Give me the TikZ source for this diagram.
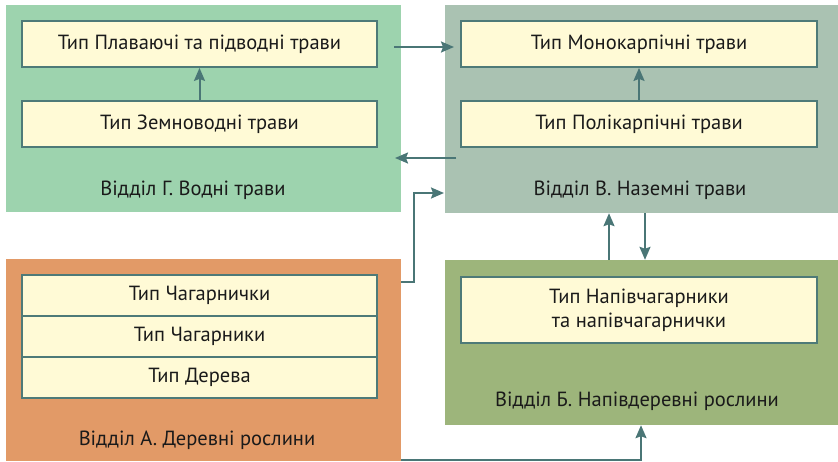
\documentclass[tikz,border=0pt]{standalone}
\usepackage{fontspec}
\setmainfont{PT Sans}
\usetikzlibrary{arrows.meta}
\definecolor{cG}{HTML}{9DD3AE}
\definecolor{cV}{HTML}{AAC2B2}
\definecolor{cA}{HTML}{E29A67}
\definecolor{cB}{HTML}{9DB57B}
\definecolor{cIn}{HTML}{FFFAD6}
\definecolor{cEdge}{HTML}{4E7A78}
\definecolor{cArr}{HTML}{4A7676}
\definecolor{cTxt}{HTML}{1A1A1A}
\begin{document}
\begin{tikzpicture}[x=1pt,y=-1pt,
  grp/.style={draw=none,rectangle,inner sep=0pt},
  typebox/.style={draw=cEdge,fill=cIn,line width=1.8pt,rectangle,inner sep=0pt,text=cTxt,font=\fontsize{20.5}{24}\selectfont,align=center},
  lbl/.style={font=\fontsize{20.5}{24}\selectfont,inner sep=0pt,text=cTxt},
  arr/.style={draw=cArr,line width=2pt,-{Stealth[length=13pt,width=11pt,inset=2pt]}},
  ln/.style={draw=cArr,line width=2pt}]
\useasboundingbox (0,0) rectangle (838,461);
% groups
\node[grp,fill=cG,minimum width=395pt,minimum height=207pt] (G) at (203.5,108.5) {};
\node[grp,fill=cV,minimum width=393pt,minimum height=208pt] (V) at (641.5,109) {};
\node[grp,fill=cA,minimum width=395pt,minimum height=202pt] (A) at (203.5,360) {};
\node[grp,fill=cB,minimum width=393pt,minimum height=165pt] (B) at (641.5,342.5) {};
% G
\node[typebox,minimum width=355pt,minimum height=46pt] (GP) at (199.5,44) {Тип Плаваючі та підводні трави};
\node[typebox,minimum width=355pt,minimum height=46pt] (GZ) at (199.5,124) {Тип Земноводні трави};
\node[lbl] (GL) at (193,190) {Відділ Г. Водні трави};
% V
\node[typebox,minimum width=356pt,minimum height=46pt] (VM) at (639,44) {Тип Монокарпічні трави};
\node[typebox,minimum width=356pt,minimum height=46pt] (VP) at (639,124) {Тип Полікарпічні трави};
\node[lbl] (VL) at (640,190) {Відділ В. Наземні трави};
% A
\node[typebox,minimum width=355pt,minimum height=41pt] (A1) at (199.5,295.5) {Тип Чагарнички};
\node[typebox,minimum width=355pt,minimum height=41pt] (A2) at (199.5,336.5) {Тип Чагарники};
\node[typebox,minimum width=355pt,minimum height=41pt] (A3) at (199.5,377.5) {Тип Дерева};
\node[lbl] (AL) at (197,440) {Відділ А. Деревні рослини};
% B
\node[typebox,minimum width=356pt,minimum height=66pt] (BT) at (639,310) {Тип Напівчагарники\\та напівчагарнички};
\node[lbl] (BL) at (637,401) {Відділ Б. Напівдеревні рослини};
% inner arrows
\draw[arr] (GZ.north) -- (GP.south);
\draw[arr] (VP.north) -- (VM.south);
% between groups
\coordinate (s1) at (394,47);
\coordinate (e1) at (454,47);
\draw[arr] (s1) -- (e1);
\coordinate (s2) at (456,158);
\coordinate (e2) at (395,158);
\draw[arr] (s2) -- (e2);
\coordinate (s3) at (A.north east |- 0,282);
\coordinate (k3) at (414,282);
\coordinate (e3) at (444,193);
\draw[arr] (s3) -- (k3) |- (e3);
\draw[arr] (B.north -| 609,0) -- (V.south -| 609,0);
\draw[arr] (V.south -| 645,0) -- (B.north -| 645,0);
\coordinate (s4) at (A.east |- 0,460);
\draw[arr] (s4) -| (B.south -| 641,0);
\end{tikzpicture}
\end{document}
